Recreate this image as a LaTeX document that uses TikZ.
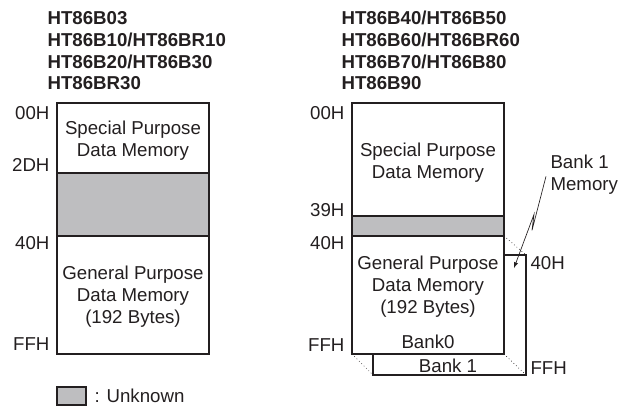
\documentclass[tikz,border=0pt]{standalone}
\usepackage{fontspec}
\setmainfont{Liberation Sans}
\usepackage{tikz}
\usetikzlibrary{positioning}

\begin{document}
\begin{tikzpicture}[x=0.75pt, y=-0.75pt, line width=0.8pt,
        font=\fontsize{14}{16.5}\selectfont,
        hdr/.style={anchor=base west, inner sep=0pt, font=\fontsize{14}{16.5}\selectfont\bfseries},
        addr/.style={anchor=base east, inner sep=0pt},
        memtext/.style={align=center, inner sep=0pt}]
            \useasboundingbox (0,0) rectangle (620,408);
            \xdefinecolor{ink}{RGB}{35, 31, 32}
            \xdefinecolor{unknown}{RGB}{190, 190, 192}
            \tikzset{every node/.append style={text=ink}}

            % Part numbers above both maps
            \foreach \name [count=\i] in {HT86B03, HT86B10/HT86BR10, HT86B20/HT86B30, HT86BR30} {
                    \node[hdr] (hdrL\i) at (47, {24.7+21.7*(\i-1)}) {\name};
                }
            \foreach \name [count=\i] in {HT86B40/HT86B50, HT86B60/HT86BR60, HT86B70/HT86B80, HT86B90} {
                    \node[hdr] (hdrR\i) at (341, {24.7+21.7*(\i-1)}) {\name};
                }

            % Draw left memory map
            \draw[ink, fill=white] (57,103) rectangle (209,354);
            \draw[ink, fill=unknown] (57,173) rectangle (209,236);
            \node[memtext] (spL) at (133,141) {Special Purpose\\Data Memory};
            \node[memtext] (gpL) at (133,297) {General Purpose\\Data Memory\\(192 Bytes)};
            \foreach \addr/\y in {00H/113, 2DH/165, 40H/243, FFH/344} {
                    \node[addr] (L\addr) at (50, {\y+6.7}) {\addr};
                }

            % Draw bank 1 behind bank 0
            \draw[ink, fill=white] (373,255) rectangle (526,375);
            \draw[ink, line width=0.5pt, dotted] (504,236) -- (526,255);
            \draw[ink, line width=0.5pt, dotted] (352,354) -- (373,375);
            \draw[ink, line width=0.5pt, dotted] (504,354) -- (526,375);

            % Draw right memory map
            \draw[ink, fill=white] (352,103) rectangle (504,354);
            \draw[ink, fill=unknown] (352,216) rectangle (504,236);
            \node[memtext] (spR) at (428,163) {Special Purpose\\Data Memory};
            \node[memtext] (gpR) at (428,287) {General Purpose\\Data Memory\\(192 Bytes)};
            \node[memtext] (bank0) at (428,342) {Bank0};
            \node[memtext] (bank1) at (448,366) {Bank 1};
            \foreach \addr/\y in {00H/113, 39H/210, 40H/243, FFH/345} {
                    \node[addr] (R\addr) at (345, {\y+6.7}) {\addr};
                }
            \node[anchor=base west, inner sep=0pt] (b1top) at (530, 269.7) {40H};
            \node[anchor=base west, inner sep=0pt] (b1end) at (530, 374.7) {FFH};

            % Bank 1 label with its lightning leader
            \node[align=left, inner sep=0pt, anchor=west] (bankmem) at (550,175) {Bank 1\\Memory};
            \coordinate (b1tip) at (514,268);
            \draw[-latex, ink, line width=0.5pt] ([xshift=-3pt, yshift=-1pt]bankmem.west) -- ++(-14,54) -- ++(2,-16) -- (b1tip);

            % Legend
            \draw[ink, fill=unknown] (57,387) rectangle (86,405);
            \node[anchor=west, inner sep=0pt] (legend) at (94,396) {: Unknown};
        \end{tikzpicture}
\end{document}
